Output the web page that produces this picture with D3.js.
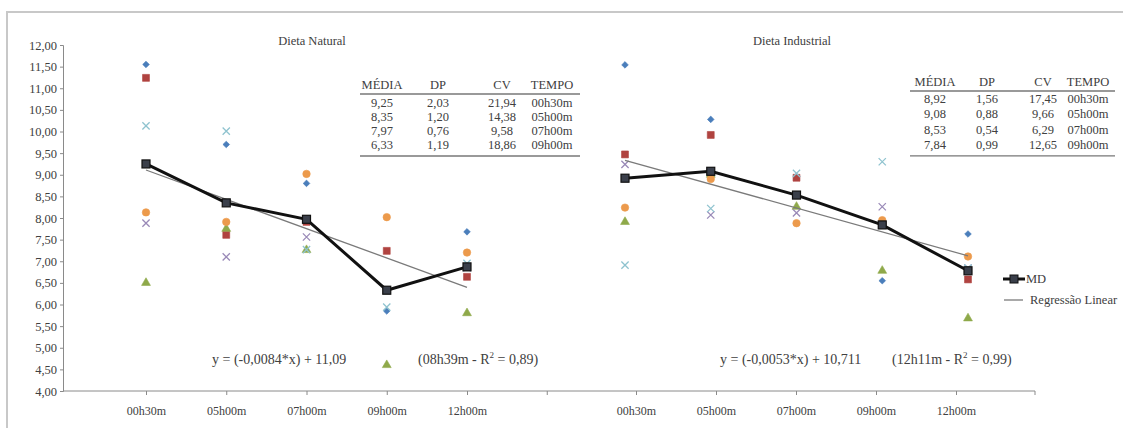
<!DOCTYPE html>
<html>
<head>
<meta charset="utf-8">
<script src="https://cdn.jsdelivr.net/npm/d3@7"></script>
<style>
  body { margin: 0; background: #fff; }
</style>
</head>
<body>
<svg id="chart" width="1123" height="428"></svg>
<script>
// horários de coleta
const tempos = ["00h30m", "05h00m", "07h00m", "09h00m", "12h00m"];
const yTicks = d3.range(4, 12.01, 0.5);

// Dieta Natural - indivíduos
const natS1 = [11.55, 9.70, 8.80, 5.85, 7.68];   // losango azul
const natS2 = [11.24, 7.61, 7.91, 7.24, 6.64];   // quadrado vermelho
const natS3 = [6.50, 7.75, 7.26, 4.60, 5.80];    // triângulo verde
const natS4 = [7.88, 7.10, 7.56, 6.33, 6.85];    // x roxo
const natS5 = [10.13, 10.01, 7.27, 5.94, 6.95];  // x ciano
const natS6 = [8.13, 7.91, 9.02, 8.02, 7.20];    // círculo laranja
const natMD = [9.25, 8.35, 7.97, 6.33, 6.87];

// Dieta Industrial - indivíduos
const indS1 = [11.54, 10.28, 8.96, 6.55, 7.63];
const indS2 = [9.47, 9.92, 8.93, 7.85, 6.58];
const indS3 = [7.91, 9.00, 8.26, 6.78, 5.68];
const indS4 = [9.24, 8.07, 8.12, 8.26, 6.84];
const indS5 = [6.91, 8.22, 9.03, 9.30, 6.84];
const indS6 = [8.24, 8.90, 7.88, 7.95, 7.11];
const indMD = [8.92, 9.08, 8.53, 7.84, 6.78];

// tabelas
const tabHead = ["MÉDIA", "DP", "CV", "TEMPO"];
const natMedia = ["9,25", "8,35", "7,97", "6,33"];
const natDP = ["2,03", "1,20", "0,76", "1,19"];
const natCV = ["21,94", "14,38", "9,58", "18,86"];
const indMedia = ["8,92", "9,08", "8,53", "7,84"];
const indDP = ["1,56", "0,88", "0,54", "0,99"];
const indCV = ["17,45", "9,66", "6,29", "12,65"];
const tabTempo = tempos.slice(0, 4);

const series = [
  { key: "S1", shape: d3.symbolSquare, size: 22, rot: 45, color: "#4a7ebb", fill: true },
  { key: "S2", shape: d3.symbolSquare, size: 48, rot: 0, color: "#b04340", fill: true },
  { key: "S3", shape: d3.symbolTriangle, size: 34, rot: 0, color: "#8fa94a", fill: true },
  { key: "S4", shape: d3.symbolX, size: 36, rot: 0, color: "#9a8ab8", fill: false },
  { key: "S5", shape: d3.symbolX, size: 36, rot: 0, color: "#8fc3cf", fill: false },
  { key: "S6", shape: d3.symbolCircle, size: 44, rot: 0, color: "#ec9a4c", fill: true }
];
const natData = [natS1, natS2, natS3, natS4, natS5, natS6];
const indData = [indS1, indS2, indS3, indS4, indS5, indS6];

const svg = d3.select("#chart");
const txt = "#404040";

// moldura
svg.append("path")
  .attr("d", "M7,428 V12 H1123")
  .attr("fill", "none")
  .attr("stroke", "#c8c8c8")
  .attr("stroke-width", 2);

const y = d3.scaleLinear().domain([4, 12]).range([391, 45]);
const xNat = d3.scalePoint().domain(tempos).range([146, 467]);
const xInd = d3.scalePoint().domain(tempos).range([625, 968]);
const xIndAxis = d3.scalePoint().domain(tempos).range([636, 956]);

// eixo y
const yAxis = svg.append("g")
  .attr("transform", "translate(63,0)")
  .call(d3.axisLeft(y).tickValues(yTicks).tickSize(3)
    .tickFormat(d => d3.format(".2f")(d).replace(".", ",")));
yAxis.select(".domain").attr("stroke", "#8a8a8a");
yAxis.selectAll(".tick line").attr("stroke", "#8a8a8a");
yAxis.selectAll("text").attr("fill", txt).style("font-size", "12.5px");

// eixo x
svg.append("line")
  .attr("x1", 63).attr("x2", 1035)
  .attr("y1", 391).attr("y2", 391)
  .attr("stroke", "#8a8a8a");

function xAxis(scale, extra) {
  const g = svg.append("g").attr("transform", "translate(0,391)")
    .call(d3.axisBottom(scale).tickSize(4).tickPadding(11));
  g.select(".domain").remove();
  g.selectAll(".tick line").attr("stroke", "#8a8a8a");
  g.selectAll("text").attr("fill", txt).style("font-size", "12px");
  g.append("line")
    .attr("x1", extra).attr("x2", extra).attr("y1", 0).attr("y2", 4)
    .attr("stroke", "#8a8a8a");
}
xAxis(xNat, xNat(tempos[4]) + xNat.step());
xAxis(xIndAxis, 1035);

function regressao(md) {
  const n = md.length;
  const mx = (n - 1) / 2;
  const my = d3.mean(md);
  let num = 0, den = 0;
  md.forEach((v, i) => { num += (i - mx) * (v - my); den += (i - mx) * (i - mx); });
  const b = num / den;
  return [0, n - 1].map(i => ({ i, v: my + b * (i - mx) }));
}

function painel(x, data, md, titulo, tx) {
  svg.append("text")
    .attr("x", tx).attr("y", 45)
    .attr("text-anchor", "middle")
    .attr("fill", txt)
    .style("font-size", "12.5px")
    .text(titulo);

  series.forEach((s, k) => {
    svg.append("g").selectAll("path")
      .data(data[k])
      .join("path")
      .attr("transform", (d, i) => `translate(${x(tempos[i])},${y(d)}) rotate(${s.rot})`)
      .attr("d", d3.symbol(s.shape, s.size))
      .attr("fill", s.fill ? s.color : "none")
      .attr("stroke", s.color)
      .attr("stroke-width", s.fill ? 0.6 : 1.3);
  });

  const reg = regressao(md);
  svg.append("line")
    .attr("x1", x(tempos[reg[0].i])).attr("y1", y(reg[0].v))
    .attr("x2", x(tempos[reg[1].i])).attr("y2", y(reg[1].v))
    .attr("stroke", "#7a7a7a")
    .attr("stroke-width", 1.3);

  const line = d3.line().x((d, i) => x(tempos[i])).y(d => y(d));
  svg.append("path")
    .datum(md)
    .attr("d", line)
    .attr("fill", "none")
    .attr("stroke", "#111")
    .attr("stroke-width", 3);
  svg.append("g").selectAll("rect")
    .data(md)
    .join("rect")
    .attr("x", (d, i) => x(tempos[i]) - 4)
    .attr("y", d => y(d) - 4)
    .attr("width", 8).attr("height", 8)
    .attr("fill", "#3a3f4a")
    .attr("stroke", "#111")
    .attr("stroke-width", 1.2);
}

painel(xNat, natData, natMD, "Dieta Natural", 312);
painel(xInd, indData, indMD, "Dieta Industrial", 792);

function tabela(cols, colX, headY, rowY, rowH, x1, x2) {
  const cells = [tabHead].concat(d3.range(4).map(r => cols.map(c => c[r])));
  cells.forEach((row, r) => {
    row.forEach((t, c) => {
      svg.append("text")
        .attr("x", colX[c])
        .attr("y", r === 0 ? headY : rowY + (r - 1) * rowH)
        .attr("text-anchor", "middle")
        .attr("fill", txt)
        .style("font-size", "12.5px")
        .text(t);
    });
  });
  svg.append("line").attr("x1", x1).attr("x2", x2)
    .attr("y1", headY + 5).attr("y2", headY + 5)
    .attr("stroke", "#777").attr("stroke-width", 1.3);
  svg.append("line").attr("x1", x1).attr("x2", x2)
    .attr("y1", rowY + 3 * rowH + 7).attr("y2", rowY + 3 * rowH + 7)
    .attr("stroke", "#777").attr("stroke-width", 1.3);
}
tabela([natMedia, natDP, natCV, tabTempo], [382, 438, 502, 552], 89, 107, 14, 360, 580);
tabela([indMedia, indDP, indCV, tabTempo], [935, 987, 1043, 1088], 86, 103, 15.3, 910, 1115);

// equações
function equacao(eq, eqX, r2, r2X) {
  svg.append("text").attr("x", eqX).attr("y", 364)
    .attr("fill", txt).style("font-size", "14px").text(eq);
  const t = svg.append("text").attr("x", r2X).attr("y", 364)
    .attr("fill", txt).style("font-size", "14px");
  t.append("tspan").text(r2[0] + " - R");
  t.append("tspan").attr("dy", -6).style("font-size", "9px").text("2");
  t.append("tspan").attr("dy", 6).text(" = " + r2[1] + ")");
}
equacao("y = (-0,0084*x) + 11,09", 212, ["(08h39m", "0,89"], 418);
equacao("y = (-0,0053*x) + 10,711", 720, ["(12h11m", "0,99"], 892);

// legenda
const leg = svg.append("g").attr("transform", "translate(1003,279)");
leg.append("line").attr("x1", 0).attr("x2", 22).attr("y1", 0).attr("y2", 0)
  .attr("stroke", "#111").attr("stroke-width", 3);
leg.append("rect").attr("x", 7).attr("y", -4).attr("width", 8).attr("height", 8)
  .attr("fill", "#3a3f4a").attr("stroke", "#111");
leg.append("text").attr("x", 23).attr("y", 4).attr("fill", txt)
  .style("font-size", "12.5px").text("MD");
leg.append("line").attr("x1", 1).attr("x2", 20).attr("y1", 21).attr("y2", 21)
  .attr("stroke", "#7a7a7a").attr("stroke-width", 1.3);
leg.append("text").attr("x", 27).attr("y", 25).attr("fill", txt)
  .style("font-size", "12.5px").text("Regressão Linear");

// fonte serifada em todos os textos
svg.selectAll("text").style("font-family", "'Liberation Serif'");
</script>
</body>
</html>
